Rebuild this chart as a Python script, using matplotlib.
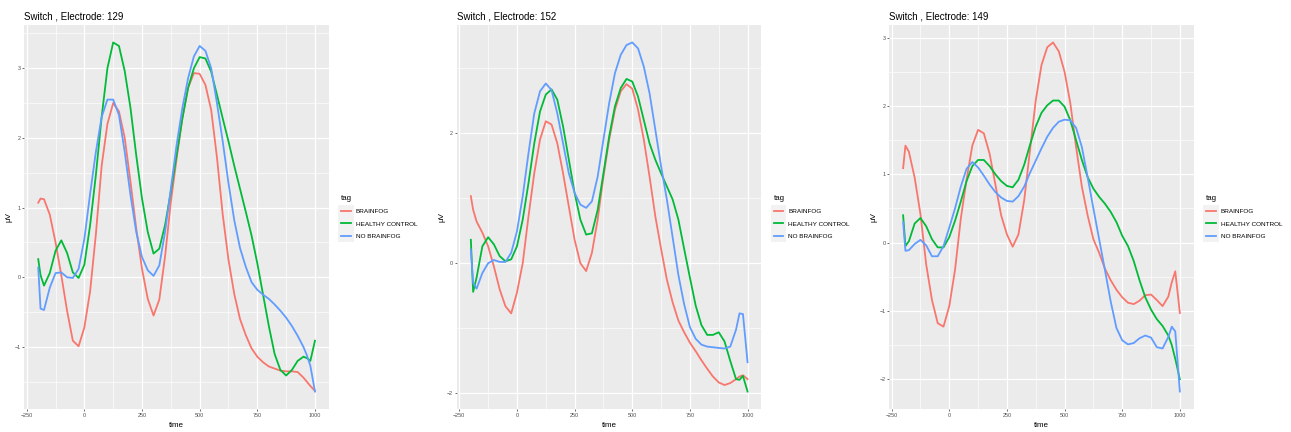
import matplotlib
matplotlib.use("Agg")
import matplotlib.pyplot as plt
from matplotlib.patches import Rectangle
from matplotlib.ticker import MultipleLocator

plt.rcParams['font.family'] = ['Liberation Sans', 'DejaVu Sans']

time = [-200, -190, -175, -150, -125, -100, -75, -50, -25, 0, 25, 50, 75, 100, 125,
        150, 175, 200, 225, 250, 275, 300, 325, 350, 375, 400, 425, 450, 475, 500,
        525, 550, 575, 600, 625, 650, 675, 700, 725, 750, 775, 800, 825, 850, 875,
        900, 925, 950, 965, 980, 1000]

tags = ["BRAINFOG", "HEALTHY CONTROL", "NO BRAINFOG"]
colors = ["#F8766D", "#00BA38", "#619CFF"]

# electrode 129
e129_brainfog = [1.07, 1.13, 1.12, 0.9, 0.5, 0.03, -0.48, -0.91, -0.99, -0.72, -0.2, 0.62, 1.6, 2.2, 2.5,
                 2.38, 2.0, 1.37, 0.7, 0.12, -0.31, -0.55, -0.32, 0.3, 1.08, 1.7, 2.28, 2.72, 2.93, 2.92,
                 2.76, 2.4, 1.72, 0.9, 0.25, -0.24, -0.6, -0.83, -1.02, -1.14, -1.22, -1.28, -1.31, -1.34, -1.35,
                 -1.35, -1.36, -1.44, -1.5, -1.56, -1.63]
e129_healthy = [0.26, 0.03, -0.12, 0.06, 0.38, 0.53, 0.35, 0.07, -0.01, 0.18, 0.75, 1.47, 2.3, 3.0, 3.37,
                3.32, 2.96, 2.43, 1.75, 1.13, 0.65, 0.34, 0.41, 0.75, 1.23, 1.75, 2.28, 2.72, 3.0, 3.16,
                3.14, 2.95, 2.62, 2.28, 1.95, 1.6, 1.27, 0.94, 0.6, 0.2, -0.25, -0.7, -1.1, -1.33, -1.41,
                -1.33, -1.2, -1.14, -1.16, -1.2, -0.91]
e129_nobrainfog = [0.14, -0.45, -0.47, -0.15, 0.06, 0.07, 0.0, -0.01, 0.12, 0.55, 1.2, 1.8, 2.3, 2.55, 2.55,
                   2.33, 1.8, 1.18, 0.65, 0.29, 0.1, 0.02, 0.17, 0.65, 1.27, 1.9, 2.43, 2.86, 3.17, 3.32,
                   3.25, 3.0, 2.5, 1.95, 1.35, 0.82, 0.42, 0.15, -0.07, -0.18, -0.25, -0.31, -0.39, -0.48, -0.58,
                   -0.7, -0.84, -1.0, -1.12, -1.27, -1.64]

# electrode 152
e152_brainfog = [1.03, 0.82, 0.64, 0.47, 0.26, -0.05, -0.4, -0.66, -0.77, -0.45, 0.0, 0.72, 1.38, 1.9, 2.18,
                 2.13, 1.84, 1.38, 0.87, 0.36, 0.0, -0.12, 0.16, 0.67, 1.33, 1.9, 2.36, 2.64, 2.75, 2.68,
                 2.36, 1.9, 1.33, 0.72, 0.22, -0.25, -0.6, -0.88, -1.06, -1.22, -1.35, -1.49, -1.62, -1.74, -1.83,
                 -1.87, -1.84, -1.78, -1.74, -1.72, -1.78]
e152_healthy = [0.36, -0.44, -0.22, 0.26, 0.4, 0.29, 0.11, 0.03, 0.06, 0.26, 0.67, 1.23, 1.84, 2.33, 2.59,
                2.67, 2.51, 2.1, 1.59, 1.08, 0.67, 0.44, 0.46, 0.82, 1.38, 1.95, 2.41, 2.69, 2.83, 2.79,
                2.56, 2.2, 1.84, 1.59, 1.38, 1.18, 0.98, 0.67, 0.22, -0.22, -0.65, -0.95, -1.1, -1.1, -1.06,
                -1.2, -1.5, -1.78, -1.79, -1.73, -1.97]
e152_nobrainfog = [0.21, -0.3, -0.39, -0.15, 0.0, 0.05, 0.02, 0.02, 0.16, 0.49, 1.03, 1.69, 2.3, 2.64, 2.76,
                   2.66, 2.3, 1.84, 1.38, 1.08, 0.9, 0.85, 0.95, 1.33, 1.9, 2.46, 2.92, 3.2, 3.35, 3.39,
                   3.3, 3.02, 2.61, 2.05, 1.49, 0.98, 0.4, -0.18, -0.63, -0.98, -1.16, -1.25, -1.28, -1.29, -1.3,
                   -1.31, -1.28, -1.02, -0.77, -0.78, -1.52]

# electrode 149
e149_brainfog = [1.09, 1.42, 1.33, 0.95, 0.42, -0.32, -0.84, -1.18, -1.23, -0.93, -0.4, 0.35, 0.92, 1.42, 1.65,
                 1.6, 1.3, 0.85, 0.4, 0.12, -0.06, 0.12, 0.62, 1.35, 2.08, 2.6, 2.86, 2.93, 2.8, 2.5,
                 2.04, 1.4, 0.82, 0.4, 0.05, -0.15, -0.38, -0.55, -0.69, -0.8, -0.88, -0.9, -0.85, -0.77, -0.76,
                 -0.84, -0.93, -0.79, -0.58, -0.42, -1.03]
e149_healthy = [0.4, -0.05, 0.02, 0.28, 0.36, 0.24, 0.05, -0.07, -0.07, 0.08, 0.32, 0.6, 0.9, 1.12, 1.21,
                1.21, 1.12, 1.0, 0.9, 0.83, 0.81, 0.92, 1.14, 1.43, 1.7, 1.9, 2.01, 2.08, 2.08, 1.99,
                1.79, 1.5, 1.21, 0.96, 0.79, 0.67, 0.57, 0.45, 0.3, 0.1, -0.05, -0.27, -0.55, -0.8, -0.98,
                -1.12, -1.22, -1.36, -1.5, -1.7, -2.0]
e149_nobrainfog = [0.3, -0.12, -0.11, -0.02, 0.04, -0.04, -0.2, -0.2, -0.05, 0.22, 0.5, 0.82, 1.08, 1.18, 1.1,
                   0.98, 0.85, 0.74, 0.66, 0.61, 0.6, 0.68, 0.82, 1.02, 1.2, 1.38, 1.55, 1.68, 1.77, 1.8,
                   1.79, 1.68, 1.4, 0.96, 0.5, 0.05, -0.4, -0.86, -1.25, -1.43, -1.49, -1.47, -1.4, -1.36, -1.39,
                   -1.53, -1.55, -1.38, -1.23, -1.3, -2.18]

panels = [
    ("Switch , Electrode: 129", [e129_brainfog, e129_healthy, e129_nobrainfog], 1.0),
    ("Switch , Electrode: 152", [e152_brainfog, e152_healthy, e152_nobrainfog], 2.0),
    ("Switch , Electrode: 149", [e149_brainfog, e149_healthy, e149_nobrainfog], 1.0),
]

W, H = 1291, 432
fig = plt.figure(figsize=(W / 100, H / 100), dpi=100)
lefts = [24.4, 457, 889.3]
ax_w = 304.4
top, bottom = 25, 409

legends = []
for left, (title, series, ystep) in zip(lefts, panels):
    ax = fig.add_axes([left / W, (H - bottom) / H, ax_w / W, (bottom - top) / H])
    ax.set_facecolor("#EBEBEB")
    for vals, tag, col in zip(series, tags, colors):
        ax.plot(time, vals, color=col, lw=1.3, label=tag)
    ax.margins(x=0.05, y=0.05)
    ax.xaxis.set_major_locator(MultipleLocator(250))
    ax.xaxis.set_minor_locator(MultipleLocator(125))
    ax.yaxis.set_major_locator(MultipleLocator(ystep))
    ax.yaxis.set_minor_locator(MultipleLocator(ystep / 2))
    ax.grid(which="major", color="white", lw=0.9)
    ax.grid(which="minor", color="white", lw=0.45)
    ax.set_axisbelow(True)
    for s in ax.spines.values():
        s.set_visible(False)
    ax.tick_params(which="major", length=1.6, width=0.5, color="#333333",
                   labelsize=3.9, labelcolor="#4D4D4D", pad=1.2)
    ax.tick_params(which="minor", length=0)
    ax.set_xlabel("time", fontsize=5.8, labelpad=3)
    ax.set_ylabel("μV", fontsize=5.8, labelpad=1)
    ax.set_title(title, loc="left", fontsize=7, pad=4)
    leg = ax.legend(title="tag", loc="center left", bbox_to_anchor=(1.04, 0.5),
                    frameon=False, fontsize=4.6, title_fontsize=5.7,
                    handlelength=1.55, handletextpad=0.75, labelspacing=1.05,
                    borderpad=0, borderaxespad=0, alignment="left")
    for h in leg.legend_handles:
        h.set_linewidth(1.3)
    legends.append(leg)

# grey key backgrounds behind the legend lines, as ggplot draws them
fig.canvas.draw()
for leg in legends:
    boxes = [h.get_window_extent() for h in leg.legend_handles]
    ys = [(b.y0 + b.y1) / 2 for b in boxes]
    step = abs(ys[0] - ys[1])
    for b, yc in zip(boxes, ys):
        x0 = b.x0 - 3
        w = (b.x1 - b.x0) + 6
        fig.add_artist(Rectangle((x0 / W, (yc - step / 2) / H), w / W, step / H,
                                 transform=fig.transFigure, facecolor="#F2F2F2",
                                 edgecolor="none", zorder=-1))

fig.savefig("out.png", dpi=100)
